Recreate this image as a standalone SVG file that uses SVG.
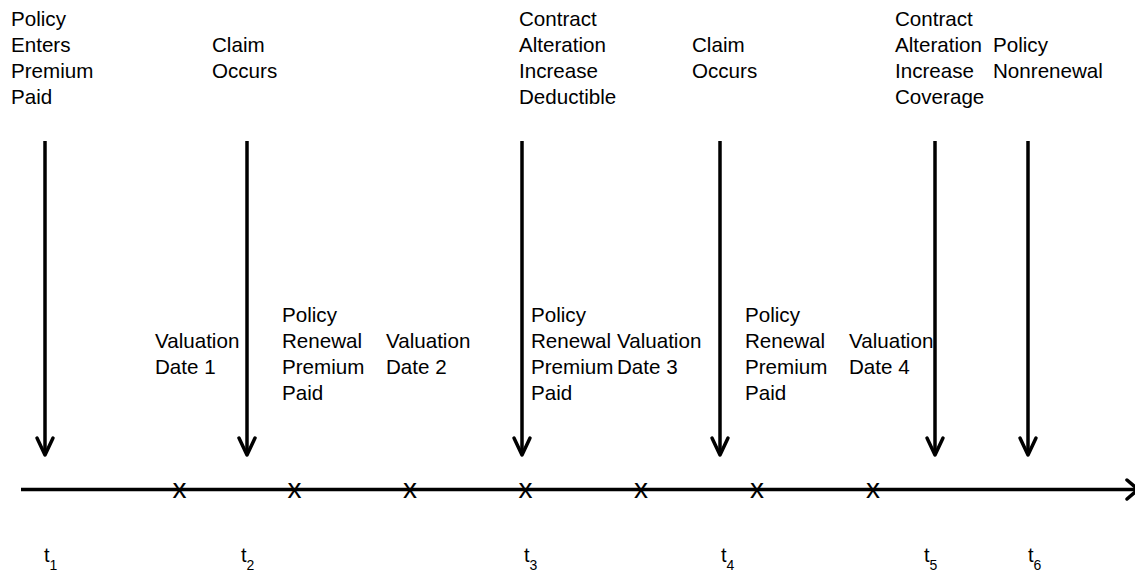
<svg xmlns="http://www.w3.org/2000/svg" width="1135" height="573" viewBox="0 0 1135 573">
<style>
text{font-family:"Liberation Sans",Arial,sans-serif;fill:#000}
.lbl{font-size:20.6px}
.x{font-size:28px;text-anchor:middle}
.t{font-size:20px}
.s{font-size:14px}
.ln{stroke:#000;stroke-width:3.5;fill:none}
.hd{stroke:#000;stroke-width:3.5;fill:none;stroke-linecap:round;stroke-linejoin:round}
</style>
<rect width="1135" height="573" fill="#fff"/>
<g id="connectors">
<line class="ln" x1="21" y1="489.5" x2="1137" y2="489.5"/>
<polyline class="hd" points="1127,480 1138,489.5 1127,499"/>
<g id="arrows">
<line class="ln" x1="45" y1="141" x2="45" y2="454"/><polyline class="hd" points="37,438 45,455 53,438"/>
<line class="ln" x1="247" y1="141" x2="247" y2="454"/><polyline class="hd" points="239,438 247,455 255,438"/>
<line class="ln" x1="522" y1="141" x2="522" y2="454"/><polyline class="hd" points="514,438 522,455 530,438"/>
<line class="ln" x1="720" y1="141" x2="720" y2="454"/><polyline class="hd" points="712,438 720,455 728,438"/>
<line class="ln" x1="935" y1="141" x2="935" y2="454"/><polyline class="hd" points="927,438 935,455 943,438"/>
<line class="ln" x1="1028" y1="141" x2="1028" y2="454"/><polyline class="hd" points="1020,438 1028,455 1036,438"/>
</g>
</g>
<g id="marks">
<text class="x" x="179.5" y="498">x</text>
<text class="x" x="294.5" y="498">x</text>
<text class="x" x="410" y="498">x</text>
<text class="x" x="525.5" y="498">x</text>
<text class="x" x="641" y="498">x</text>
<text class="x" x="757" y="498">x</text>
<text class="x" x="873" y="498">x</text>
</g>
<g id="event-policy-enters"><text class="lbl" x="11" y="26">Policy</text><text class="lbl" x="11" y="52">Enters</text><text class="lbl" x="11" y="78">Premium</text><text class="lbl" x="11" y="104">Paid</text></g>
<g id="event-claim-1"><text class="lbl" x="212" y="52">Claim</text><text class="lbl" x="212" y="78">Occurs</text></g>
<g id="event-contract-deductible"><text class="lbl" x="519" y="26">Contract</text><text class="lbl" x="519" y="52">Alteration</text><text class="lbl" x="519" y="78">Increase</text><text class="lbl" x="519" y="104">Deductible</text></g>
<g id="event-claim-2"><text class="lbl" x="692" y="52">Claim</text><text class="lbl" x="692" y="78">Occurs</text></g>
<g id="event-contract-coverage"><text class="lbl" x="895" y="26">Contract</text><text class="lbl" x="895" y="52">Alteration</text><text class="lbl" x="895" y="78">Increase</text><text class="lbl" x="895" y="104">Coverage</text></g>
<g id="event-nonrenewal"><text class="lbl" x="993" y="52">Policy</text><text class="lbl" x="993" y="78">Nonrenewal</text></g>
<g id="valuation-1"><text class="lbl" x="155" y="348">Valuation</text><text class="lbl" x="155" y="374">Date 1</text></g>
<g id="renewal-1"><text class="lbl" x="282" y="322">Policy</text><text class="lbl" x="282" y="348">Renewal</text><text class="lbl" x="282" y="374">Premium</text><text class="lbl" x="282" y="400">Paid</text></g>
<g id="valuation-2"><text class="lbl" x="386" y="348">Valuation</text><text class="lbl" x="386" y="374">Date 2</text></g>
<g id="renewal-2"><text class="lbl" x="531" y="322">Policy</text><text class="lbl" x="531" y="348">Renewal</text><text class="lbl" x="531" y="374">Premium</text><text class="lbl" x="531" y="400">Paid</text></g>
<g id="valuation-3"><text class="lbl" x="617" y="348">Valuation</text><text class="lbl" x="617" y="374">Date 3</text></g>
<g id="renewal-3"><text class="lbl" x="745" y="322">Policy</text><text class="lbl" x="745" y="348">Renewal</text><text class="lbl" x="745" y="374">Premium</text><text class="lbl" x="745" y="400">Paid</text></g>
<g id="valuation-4"><text class="lbl" x="849" y="348">Valuation</text><text class="lbl" x="849" y="374">Date 4</text></g>
<g id="time-labels">
<text class="t" x="44" y="562">t<tspan class="s" dy="8">1</tspan></text>
<text class="t" x="241" y="562">t<tspan class="s" dy="8">2</tspan></text>
<text class="t" x="524" y="562">t<tspan class="s" dy="8">3</tspan></text>
<text class="t" x="721" y="562">t<tspan class="s" dy="8">4</tspan></text>
<text class="t" x="924" y="562">t<tspan class="s" dy="8">5</tspan></text>
<text class="t" x="1028" y="562">t<tspan class="s" dy="8">6</tspan></text>
</g>
</svg>
